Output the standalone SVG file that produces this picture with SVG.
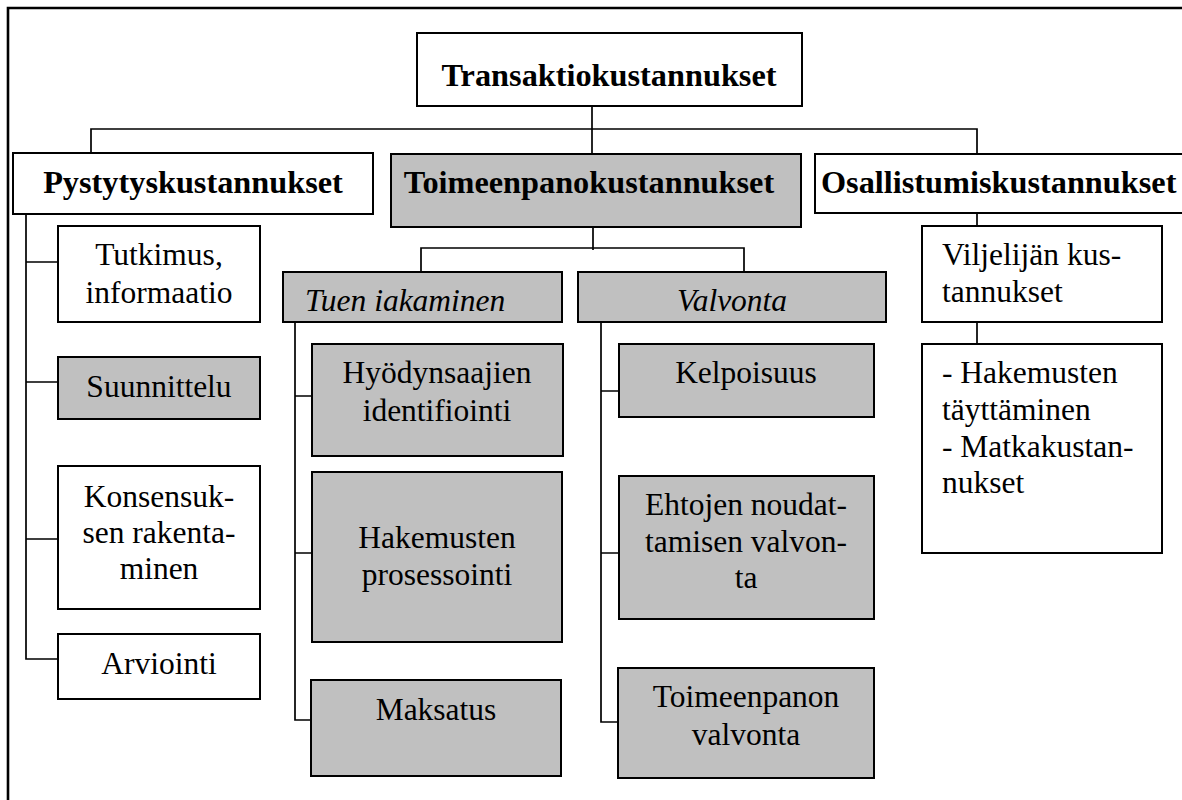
<svg xmlns="http://www.w3.org/2000/svg" width="1182" height="800" viewBox="0 0 1182 800">
<style>
.box{fill:#ffffff;stroke:#000;stroke-width:2}
.g{fill:#c0c0c0;stroke:#000;stroke-width:2}
.t{font-family:"Liberation Serif","Times New Roman",serif;font-size:31.5px;fill:#000}
.b{font-weight:bold;font-size:32.3px}
.i{font-style:italic}
.c{text-anchor:middle}
.con{fill:none;stroke:#000;stroke-width:1.7}
</style>
<rect x="0" y="0" width="1182" height="800" fill="#ffffff"/>
<path d="M8,802 V8 H1184" fill="none" stroke="#000" stroke-width="2.6"/>
<g id="connectors" class="con">
<path d="M592,106 V154"/>
<path d="M91,153 V129 H977 V153"/>
<path d="M26,214 V659 H58 M26,262 H58 M26,382 H58 M26,539 H58"/>
<path d="M593,227 V250 M421,272 V248 H744 V272"/>
<path d="M295,322 V720 H312 M295,396 H312 M295,553 H312"/>
<path d="M601,322 V722 H619 M601,391 H619 M601,553 H619"/>
<path d="M977,213 V226 M977,322 V344"/>
</g>
<g id="n-transaktio"><rect class="box" x="417" y="33" width="385" height="73"/><text class="t b c" x="609" y="86">Transaktiokustannukset</text></g>
<g id="n-pystytys"><rect class="box" x="13" y="153" width="360" height="61"/><text class="t b c" x="193" y="193">Pystytyskustannukset</text></g>
<g id="n-toimeenpano"><rect class="g" x="391" y="154" width="410" height="73"/><text class="t b c" x="589" y="193">Toimeenpanokustannukset</text></g>
<g id="n-osallistumis"><rect class="box" x="815" y="154" width="380" height="59"/><text class="t b" x="821" y="193">Osallistumiskustannukset</text></g>
<g id="n-tutkimus"><rect class="box" x="58" y="226" width="202" height="96"/><text class="t c" x="159" y="265">Tutkimus,</text><text class="t c" x="159" y="303">informaatio</text></g>
<g id="n-suunnittelu"><rect class="g" x="58" y="357" width="202" height="62"/><text class="t c" x="159" y="397">Suunnittelu</text></g>
<g id="n-konsensus"><rect class="box" x="58" y="466" width="202" height="143"/><text class="t c" x="159" y="507">Konsensuk-</text><text class="t c" x="159" y="543">sen rakenta-</text><text class="t c" x="159" y="579">minen</text></g>
<g id="n-arviointi"><rect class="box" x="58" y="634" width="202" height="65"/><text class="t c" x="159" y="674">Arviointi</text></g>
<g id="n-tuen"><rect class="g" x="283" y="272" width="279" height="50"/><text class="t i" x="305" y="311">Tuen iakaminen</text></g>
<g id="n-valvonta"><rect class="g" x="578" y="272" width="308" height="50"/><text class="t i c" x="732" y="311">Valvonta</text></g>
<g id="n-hyodyn"><rect class="g" x="312" y="344" width="251" height="112"/><text class="t c" x="437" y="383">Hyödynsaajien</text><text class="t c" x="437" y="421">identifiointi</text></g>
<g id="n-hakemusten"><rect class="g" x="312" y="472" width="250" height="170"/><text class="t c" x="437" y="548">Hakemusten</text><text class="t c" x="437" y="585">prosessointi</text></g>
<g id="n-maksatus"><rect class="g" x="311" y="680" width="250" height="96"/><text class="t c" x="436" y="720">Maksatus</text></g>
<g id="n-kelpoisuus"><rect class="g" x="619" y="344" width="255" height="73"/><text class="t c" x="746" y="383">Kelpoisuus</text></g>
<g id="n-ehtojen"><rect class="g" x="619" y="476" width="255" height="143"/><text class="t c" x="746" y="515">Ehtojen noudat-</text><text class="t c" x="746" y="552">tamisen valvon-</text><text class="t c" x="746" y="588">ta</text></g>
<g id="n-toimvalv"><rect class="g" x="618" y="668" width="256" height="110"/><text class="t c" x="746" y="707">Toimeenpanon</text><text class="t c" x="746" y="745">valvonta</text></g>
<g id="n-viljelija"><rect class="box" x="922" y="226" width="240" height="96"/><text class="t" x="942" y="265">Viljelijän kus-</text><text class="t" x="942" y="302">tannukset</text></g>
<g id="n-hakemukset2"><rect class="box" x="922" y="344" width="240" height="209"/><text class="t" x="942" y="383">- Hakemusten</text><text class="t" x="942" y="420">täyttäminen</text><text class="t" x="942" y="457">- Matkakustan-</text><text class="t" x="942" y="493">nukset</text></g>
</svg>
